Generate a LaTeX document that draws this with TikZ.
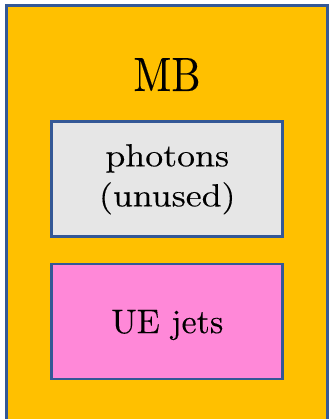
\documentclass[tikz,border=0pt]{standalone}
\usepackage{fontspec}
\setmainfont{lmroman10-regular.otf}[FakeBold=0.15]
\newfontfamily\widefont{lmroman10-regular.otf}[FakeStretch=1.12,FakeBold=0.15]
\newfontfamily\narrowfont{lmroman10-regular.otf}[FakeStretch=0.86,FakeBold=0.15]
\definecolor{mborange}{RGB}{255,192,0}
\definecolor{mbborder}{RGB}{52,88,150}
\definecolor{mbgray}{RGB}{230,230,230}
\definecolor{mbpink}{RGB}{255,136,216}
\tikzset{
  outerbox/.style={draw=mbborder, line width=3pt, fill=mborange, rectangle, inner sep=0pt},
  innerbox/.style={draw=mbborder, line width=2.8pt, rectangle, inner sep=0pt,
    minimum width=231pt, minimum height=115pt, align=center},
}
\begin{document}
\begin{tikzpicture}[x=1pt,y=-1pt]
\useasboundingbox (0,0) rectangle (329,419);
\clip (0,0) rectangle (329,419);
\node[outerbox, minimum width=321pt, minimum height=430pt] (mb) at (166.5,221) {};
\node[anchor=base, font=\narrowfont\fontsize{48}{50}\selectfont] (mblabel) at (167,91) {MB};
\node[innerbox, fill=mbgray, font=\widefont\fontsize{32}{40}\selectfont] (photons) at (167.25,179.25) {photons\\(unused)};
\node[innerbox, fill=mbpink, font=\fontsize{34}{40}\selectfont, text depth=0pt] (uejets) at (167.25,321.5) {UE jets};
\end{tikzpicture}
\end{document}
